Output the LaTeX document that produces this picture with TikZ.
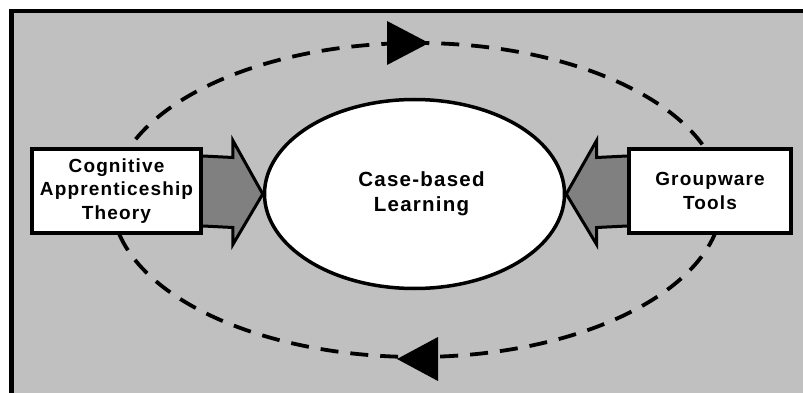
\documentclass[tikz,border=0pt]{standalone}
\usepackage{fontspec}
\setmainfont{Liberation Sans}[LetterSpace=6]
\usetikzlibrary{shapes.geometric,calc}
\pgfdeclarelayer{framelayer}
\pgfdeclarelayer{arrowlayer}
\pgfsetlayers{framelayer,arrowlayer,main}
\definecolor{bggray}{HTML}{C0C0C0}
\definecolor{arrgray}{HTML}{808080}
\tikzset{
  boxnode/.style={draw=black, fill=white, line width=4pt, inner sep=0pt, align=center,
    font=\bfseries\fontsize{19}{23.5}\selectfont},
  ellnode/.style={ellipse, draw=black, fill=white, line width=3.5pt, inner sep=0pt,
    minimum width=300pt, minimum height=189pt, align=center,
    font=\bfseries\fontsize{20.5}{25}\selectfont},
  fatarrow/.style={draw=black, fill=arrgray, line width=3pt, line join=miter},
  cycleline/.style={draw=black, line width=3.8pt, dash pattern=on 18pt off 12pt},
  headtip/.style={fill=black, draw=none}
}
\begin{document}
\begin{tikzpicture}[x=1pt, y=-1pt]
\useasboundingbox (0,0) rectangle (803,393);
\clip (0,0) rectangle (803,393);
% nodes
\node[boxnode, minimum width=169pt, minimum height=84pt] (cat) at (116.5,191)
  {Cognitive\\Apprenticeship\\Theory};
\node[boxnode, minimum width=162pt, minimum height=84pt] (gw) at (710,191)
  {Groupware\\Tools};
\node[ellnode] (cbl) at (414.5,194) {\hspace*{14pt}Case-based\\\hspace*{14pt}Learning};
\begin{pgfonlayer}{framelayer}
  \draw[line width=4.5pt, fill=bggray] (11.5,11) rectangle (830,420);
\end{pgfonlayer}
\begin{pgfonlayer}{arrowlayer}
  % cycle
  \draw[cycleline] (417,200) ellipse [x radius=305pt, y radius=157pt];
  \fill[headtip] (387,21) -- (429,43) -- (387,65) -- cycle;
  \fill[headtip] (438,337) -- (397,359) -- (438,381) -- cycle;
  % fat arrows
  \coordinate (lt) at (cbl.west);
  \coordinate (rt) at (cbl.east);
  \draw[fatarrow] ($(cat.east)+(0,-35)$) -- ($(cat.east)!0.5!(lt)+(0,-35)$)
    -- ($(cat.east)!0.5!(lt)+(0,-52)$) -- (lt)
    -- ($(cat.east)!0.5!(lt)+(0,52)$) -- ($(cat.east)!0.5!(lt)+(0,35)$)
    -- ($(cat.east)+(0,35)$);
  \draw[fatarrow] ($(gw.west)+(0,-35)$) -- ($(gw.west)!0.5!(rt)+(0,-35)$)
    -- ($(gw.west)!0.5!(rt)+(0,-52)$) -- (rt)
    -- ($(gw.west)!0.5!(rt)+(0,52)$) -- ($(gw.west)!0.5!(rt)+(0,35)$)
    -- ($(gw.west)+(0,35)$);
\end{pgfonlayer}
\end{tikzpicture}
\end{document}
